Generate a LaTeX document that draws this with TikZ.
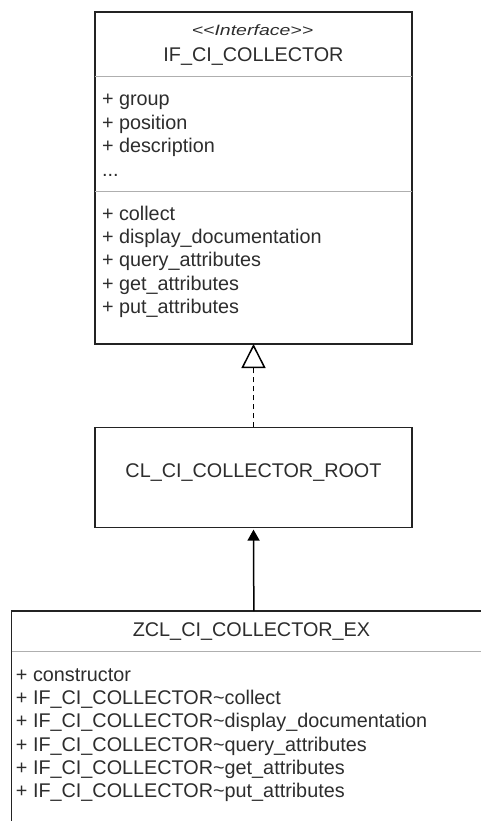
\documentclass[tikz,border=0pt]{standalone}
\usepackage{fontspec}
\setmainfont{Liberation Sans}
\usetikzlibrary{arrows.meta}
\definecolor{sepgray}{RGB}{175,175,175}
\definecolor{edgecol}{RGB}{35,35,35}
\definecolor{txtcol}{RGB}{45,45,45}
\begin{document}
\begin{tikzpicture}[x=1pt,y=-1pt,
  umlbox/.style={draw=edgecol, line width=1.5pt, fill=white, inner sep=0pt, outer sep=0pt, anchor=north west},
  sepline/.style={draw=sepgray, line width=1.1pt},
  txt/.style={inner sep=0pt, outer sep=0pt, text=txtcol, font=\fontsize{19.8}{23}\selectfont},
  itemtxt/.style={txt, anchor=base west},
  titletxt/.style={txt, anchor=base},
  stereotxt/.style={inner sep=0pt, outer sep=0pt, text=txtcol, anchor=base, font=\fontsize{15}{18}\selectfont\itshape},
  realize/.style={draw=black, line width=1.5pt, dash pattern=on 5pt off 4pt},
  inherit/.style={draw=black, line width=1.5pt}
]
\useasboundingbox (0,0) rectangle (481,821);
\clip (0,0) rectangle (481,821);

% boxes
\node[umlbox, minimum width=317pt, minimum height=332pt] (iface) at (95,12) {};
\node[umlbox, minimum width=317pt, minimum height=100.3pt] (root) at (95,427.3) {};
\node[umlbox, minimum width=484.3pt, minimum height=230pt] (ex) at (11.7,611) {};

% separators
\coordinate (s1) at (95,76.7);
\coordinate (s2) at (95,191.7);
\coordinate (s3) at (11.7,651.7);
\draw[sepline] (s1) -- (s1 -| iface.east);
\draw[sepline] (s2) -- (s2 -| iface.east);
\draw[sepline] (s3) -- (s3 -| ex.east);

% interface header
\node[stereotxt] (stereo) at (252.5,36) {\scalebox{1.3}[1]{<\kern0pt<Interface>\kern0pt>}};
\node[titletxt] (ifname) at (253.5,61.7) {IF\_CI\_COLLECTOR};

% attributes
\node[itemtxt] (a1) at (102,106) {+ group};
\node[itemtxt] (a2) at (102,129.3) {+ position};
\node[itemtxt] (a3) at (102,152.7) {+ description};
\node[itemtxt] (a4) at (102,176) {...};

% methods
\node[itemtxt] (m1) at (102,220) {+ collect};
\node[itemtxt] (m2) at (102,243.3) {+ display\_documentation};
\node[itemtxt] (m3) at (102,266.7) {+ query\_attributes};
\node[itemtxt] (m4) at (102,290) {+ get\_attributes};
\node[itemtxt] (m5) at (102,313.3) {+ put\_attributes};

% root class
\node[titletxt] (rootname) at (253.5,477.3) {CL\_CI\_COLLECTOR\_ROOT};

% example class
\node[titletxt] (exname) at (251.5,636.7) {ZCL\_CI\_COLLECTOR\_EX};
\node[itemtxt] (e1) at (16,681) {+ constructor};
\node[itemtxt] (e2) at (16,704.3) {+ IF\_CI\_COLLECTOR\textasciitilde collect};
\node[itemtxt] (e3) at (16,727.7) {+ IF\_CI\_COLLECTOR\textasciitilde display\_documentation};
\node[itemtxt] (e4) at (16,751) {+ IF\_CI\_COLLECTOR\textasciitilde query\_attributes};
\node[itemtxt] (e5) at (16,774.3) {+ IF\_CI\_COLLECTOR\textasciitilde get\_attributes};
\node[itemtxt] (e6) at (16,797.7) {+ IF\_CI\_COLLECTOR\textasciitilde put\_attributes};

% connectors
\draw[realize, -{Triangle[open, width=24pt, length=24pt, fill=white]}] (root.north) -- (iface.south);
\draw[inherit, shorten >=2pt, -{Triangle[width=12pt, length=11pt]}] (ex.north) -- (root.south);
\end{tikzpicture}
\end{document}
